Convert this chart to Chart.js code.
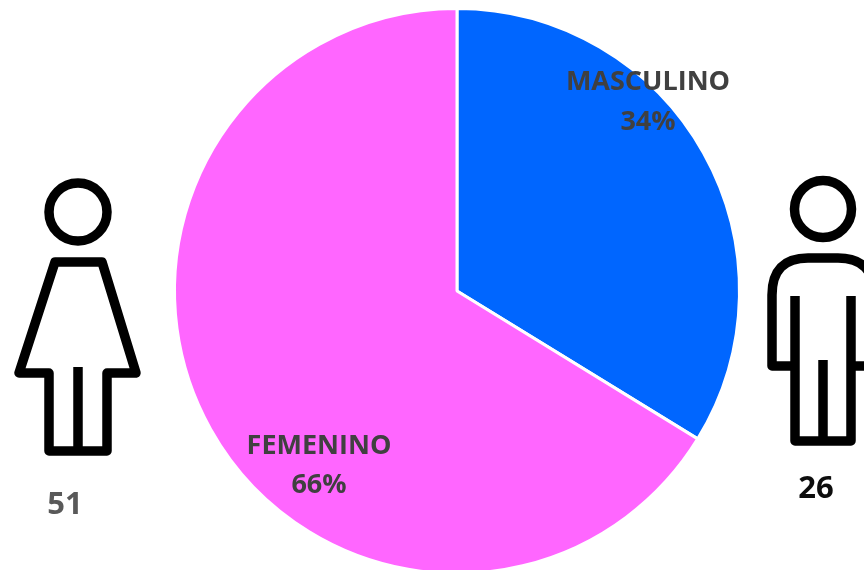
<!DOCTYPE html>
<html><head><meta charset="utf-8">
<style>html,body{margin:0;padding:0;background:#fff;overflow:hidden;width:864px;height:570px}
#w{position:relative;width:864px;height:570px;overflow:hidden}
#w div{position:absolute;left:0;top:0;width:864px;height:582px}</style>
<script src="https://cdn.jsdelivr.net/npm/chart.js@4"></script>
</head><body><div id="w"><div><canvas id="c"></canvas></div></div>
<script>
const categories = ['MASCULINO', 'FEMENINO'];
const counts = [26, 51];
const percentLabels = ['34%', '66%'];
const sliceColors = ['#0066FF', '#FF66FF'];

const FONT = 'bold 27px "Open Sans"';
const COUNT_FONT = 'bold 31px "Open Sans"';
function personIcons(ctx) {
  ctx.save();
  ctx.strokeStyle = '#000'; ctx.lineWidth = 9.5; ctx.lineJoin = 'round'; ctx.lineCap = 'butt';
  // woman
  ctx.beginPath(); ctx.arc(78, 212, 29, 0, 2 * Math.PI); ctx.stroke();
  ctx.beginPath();
  ctx.moveTo(55, 262); ctx.lineTo(102, 262); ctx.lineTo(136, 373); ctx.lineTo(107, 373);
  ctx.lineTo(107, 451); ctx.lineTo(49, 451); ctx.lineTo(49, 373); ctx.lineTo(19, 373);
  ctx.closePath(); ctx.stroke();
  ctx.beginPath(); ctx.moveTo(78, 367); ctx.lineTo(78, 451); ctx.stroke();
  // man
  ctx.beginPath(); ctx.arc(823, 209, 28.5, 0, 2 * Math.PI); ctx.stroke();
  ctx.beginPath();
  ctx.moveTo(795, 366); ctx.lineTo(772, 366); ctx.lineTo(772, 295);
  ctx.quadraticCurveTo(772, 258, 808, 258); ctx.lineTo(838, 258);
  ctx.quadraticCurveTo(874, 258, 874, 295); ctx.lineTo(874, 366); ctx.lineTo(851, 366);
  ctx.stroke();
  ctx.beginPath();
  ctx.moveTo(795, 296); ctx.lineTo(795, 441); ctx.lineTo(851, 441); ctx.lineTo(851, 296);
  ctx.stroke();
  ctx.beginPath(); ctx.moveTo(823, 360); ctx.lineTo(823, 441); ctx.stroke();
  ctx.restore();
}
const overlay = {
  id: 'overlay',
  afterDraw(chart) {
    const ctx = chart.ctx;
    personIcons(ctx);
    ctx.save();
    ctx.font = FONT; ctx.textAlign = 'center'; ctx.textBaseline = 'middle';
    ctx.fillStyle = '#404040';
    ctx.fillText(categories[0], 648, 82);
    ctx.fillText(percentLabels[0], 648, 122);
    ctx.fillText(categories[1], 319, 446);
    ctx.fillText(percentLabels[1], 319, 485);
    ctx.font = COUNT_FONT;
    ctx.fillStyle = '#595959';
    ctx.fillText(String(counts[1]), 65, 505);
    ctx.fillStyle = '#0d0d0d';
    ctx.fillText(String(counts[0]), 816, 489);
    ctx.restore();
  }
};
new Chart(document.getElementById('c'), {
  type: 'pie',
  data: { labels: categories, datasets: [{ data: counts, backgroundColor: sliceColors, borderColor: '#fff', borderWidth: 3 }] },
  options: {
    responsive: true, maintainAspectRatio: false, animation: false,
    layout: { padding: { left: 50, right: 0, top: 7, bottom: 7 } },
    plugins: { legend: { display: false }, tooltip: { enabled: false } }
  },
  plugins: [overlay]
});
</script></body></html>
